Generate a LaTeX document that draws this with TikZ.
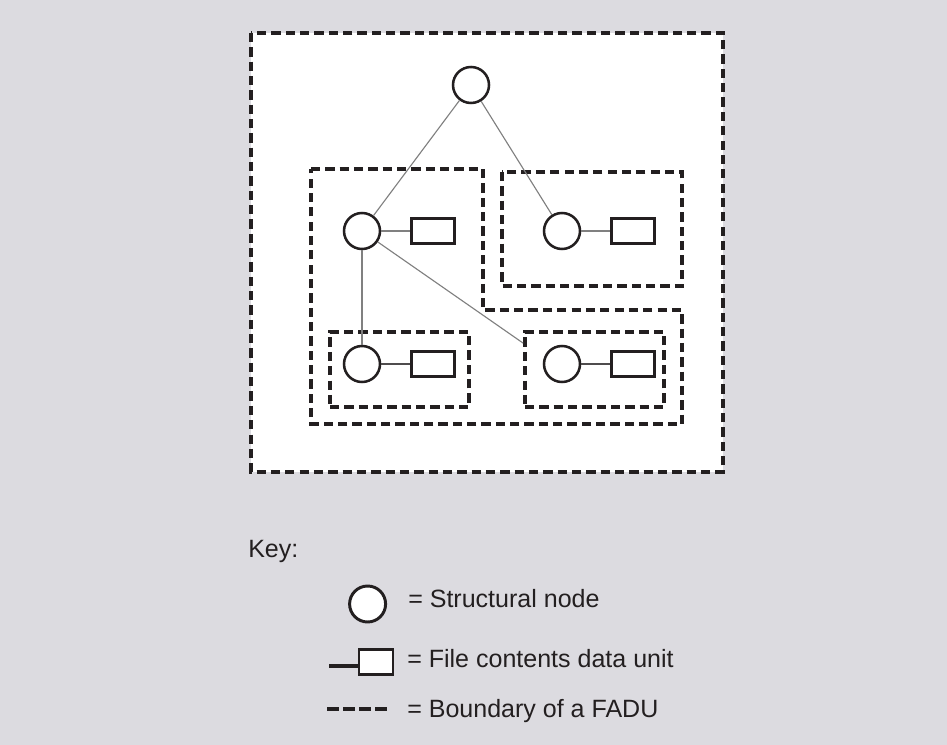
\documentclass[tikz,border=0pt]{standalone}
\usepackage{fontspec}
\setmainfont{Liberation Sans}
\usetikzlibrary{positioning}
\definecolor{bgrey}{RGB}{220,219,224}
\definecolor{ink}{RGB}{35,31,32}
\tikzstyle{snode} = [circle, draw=ink, line width=1.8pt, fill=white, minimum size=0.9cm, inner sep=0pt]
\tikzstyle{dunit} = [rectangle, draw=ink, line width=2.1pt, fill=white, minimum width=1.075cm, minimum height=0.625cm, inner sep=0pt]
\tikzstyle{link} = [draw, gray, line width=0.8pt]
\tikzstyle{fadu} = [draw=ink, line width=2.3pt, dash pattern=on 6.6pt off 3.6pt]
\tikzstyle{fadubox} = [fadu, rectangle, line width=2.7pt, inner sep=0pt, minimum width=3.475cm, minimum height=1.875cm]
\tikzstyle{keytext} = [anchor=base west, inner sep=0pt, text=ink, font=\fontsize{17.8}{21}\selectfont]

\begin{document}
\begin{tikzpicture}
\useasboundingbox (0,0) rectangle (23.675,-18.625);
\fill[bgrey] (0,0) rectangle (23.675,-18.625);

%% outer FADU
\draw[fadu, fill=white] (6.275,-0.825) rectangle (18.075,-11.8);

%% FADUs inside
\draw[fadu] (7.775,-4.225) -- (12.075,-4.225) -- (12.075,-7.75) -- (17.05,-7.75) -- (17.05,-10.6) -- (7.775,-10.6) -- cycle;
\draw[fadu, line width=2.7pt] (12.55,-4.3) rectangle (17.05,-7.15);
\node [fadubox] at (9.9875,-9.2375) (blbox) {};
\node [fadubox] at (14.8625,-9.2375) (brbox) {};

%% structural nodes and data units
\node [snode] at (11.775,-2.125) (root) {};
\node [snode] at (9.05,-5.775) (left) {};
\node [dunit, right=0.725cm of left] (leftdata) {};
\node [snode] at (14.05,-5.775) (right) {};
\node [dunit, right=0.725cm of right] (rightdata) {};
\node [snode] at (9.05,-9.1) (lowleft) {};
\node [dunit, right=0.725cm of lowleft] (lowleftdata) {};
\node [snode] at (14.05,-9.1) (lowright) {};
\node [dunit, right=0.725cm of lowright] (lowrightdata) {};

\path [link] (root) -- (left);
\path [link] (root) -- (right);
\path [link] (left) -- (lowleft);
\path [link] (left) -- ([yshift=-0.325cm]brbox.north west);
\path [link] (left) -- (leftdata);
\path [link] (right) -- (rightdata);
\path [link, draw=ink!80, line width=1.1pt] (lowleft) -- (lowleftdata);
\path [link, draw=ink!80, line width=1.1pt] (lowright) -- (lowrightdata);

%% key
\node [keytext] at (6.2,-13.925) (key) {Key:};
\node [snode, line width=2.1pt] at (9.19,-15.1) (keynode) {};
\node [keytext] at (10.2,-15.175) (keynodetext) {= Structural node};
\node [dunit, minimum width=0.85cm] at (9.4,-16.54) (keyunit) {};
\coordinate (keystub) at (8.225,-16.65);
\draw [ink, line width=2.3pt] (keystub) -- (keystub -| keyunit.west);
\node [keytext] at (10.175,-16.675) (keyunittext) {= File contents data unit};
\coordinate (keydashstart) at (8.175,-17.725);
\coordinate (keydashend) at (9.675,-17.725);
\draw [ink, line width=2.3pt, dash pattern=on 0.3cm off 0.1cm] (keydashstart) -- (keydashend);
\node [keytext] at (10.175,-17.925) (keyfadutext) {= Boundary of a FADU};
\end{tikzpicture}
\end{document}
